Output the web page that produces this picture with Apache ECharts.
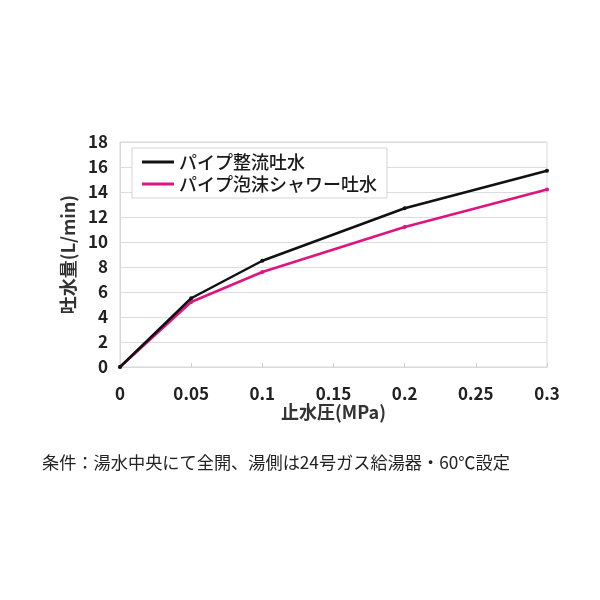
<!DOCTYPE html>
<html><head><meta charset="utf-8">
<script src="https://cdn.jsdelivr.net/npm/echarts@6/dist/echarts.min.js"></script>
<style>html,body{margin:0;padding:0;background:#fff}#c{width:600px;height:600px}</style>
</head><body><div id="c"></div>
<script>
const pressure = [0, 0.05, 0.1, 0.2, 0.3];
const seriesNames = ['パイプ整流吐水', 'パイプ泡沫シャワー吐水'];
const straightFlow = [0, 5.5, 8.5, 12.7, 15.7];
const showerFlow = [0, 5.2, 7.6, 11.2, 14.2];
const caption = '条件：湯水中央にて全開、湯側は24号ガス給湯器・60℃設定';
const xName = '止水圧(MPa)';
const yName = '吐水量(L/min)';

const font = '"Noto Sans CJK JP", "Noto Sans", sans-serif';
const chart = echarts.init(document.getElementById('c'), null, {renderer: 'canvas'});
chart.setOption({
  backgroundColor: '#fff',
  animation: false,
  textStyle: {fontFamily: font},
  grid: {left: 120, right: 53, top: 142, bottom: 233, show: true, borderColor: '#d9d9d9', borderWidth: 1},
  legend: {
    left: 132, top: 148, orient: 'vertical', itemGap: 4,
    padding: [5, 10, 5, 10],
    borderColor: '#d4d4d4', borderWidth: 1, backgroundColor: '#fff',
    itemWidth: 32, itemHeight: 3,
    textStyle: {fontSize: 18, color: '#1a1a1a', fontFamily: font, fontWeight: 500},
    data: seriesNames.map(n => ({name: n, icon: 'rect'}))
  },
  xAxis: {
    type: 'value', min: 0, max: 0.3, interval: 0.05,
    name: xName, nameLocation: 'middle', nameGap: 36,
    nameTextStyle: {fontSize: 18, fontWeight: 'bold', color: '#333', fontFamily: font},
    axisLine: {show: true, lineStyle: {color: '#d9d9d9'}},
    axisTick: {show: true, inside: true, length: 4, lineStyle: {color: '#cccccc'}},
    splitLine: {show: false},
    axisLabel: {fontSize: 17, fontWeight: 'bold', color: '#222', margin: 18, fontFamily: font}
  },
  yAxis: {
    type: 'value', min: 0, max: 18, interval: 2,
    name: yName, nameLocation: 'middle', nameGap: 38, nameRotate: 90,
    nameTextStyle: {fontSize: 18, fontWeight: 'bold', color: '#333', fontFamily: font},
    axisLine: {show: true, lineStyle: {color: '#d9d9d9'}},
    axisTick: {show: false},
    splitLine: {show: true, lineStyle: {color: '#dcdcdc', width: 1}},
    axisLabel: {fontSize: 17, fontWeight: 'bold', color: '#222', margin: 12, fontFamily: font}
  },
  series: [
    {name: seriesNames[0], type: 'line', data: pressure.map((x, i) => [x, straightFlow[i]]),
     symbol: 'circle', symbolSize: 4, color: '#111111', lineStyle: {width: 2.5, color: '#111111'}, z: 3},
    {name: seriesNames[1], type: 'line', data: pressure.map((x, i) => [x, showerFlow[i]]),
     symbol: 'circle', symbolSize: 4, color: '#e0147f', lineStyle: {width: 2.5, color: '#e0147f'}, z: 2}
  ],
  graphic: [{
    type: 'text', left: 42, top: 454,
    style: {text: caption, font: '17.2px ' + font, fill: '#222'}
  }]
});
</script></body></html>
